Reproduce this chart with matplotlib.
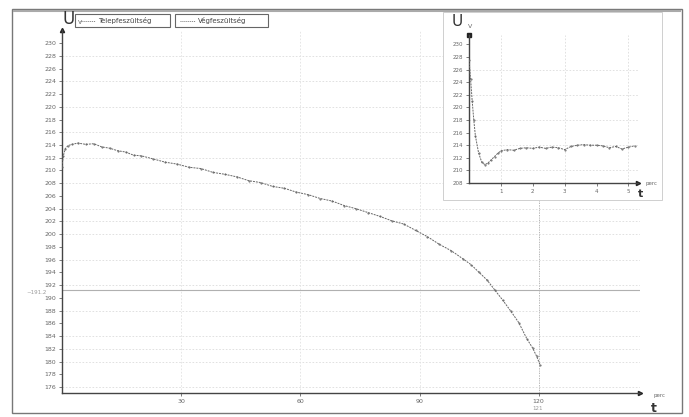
import matplotlib
matplotlib.use("Agg")
import matplotlib.pyplot as plt
from matplotlib.patches import Rectangle

# main curve: battery voltage during discharge (perc, V)
t_main = [0, 0.3, 0.8, 1.5, 2.5, 4, 6, 8, 10, 12, 14, 16, 18, 20, 23, 26, 29,
          32, 35, 38, 41, 44, 47, 50, 53, 56, 59, 62, 65, 68, 71, 74, 77, 80,
          83, 86, 89, 92, 95, 98, 101, 103, 105, 107, 109, 111, 113, 115, 117,
          118.5, 119.5, 120.4]
u_main = [210.6, 212.2, 213.4, 213.9, 214.1, 214.3, 214.1, 214.2, 213.7, 213.5,
          213.1, 212.9, 212.4, 212.3, 211.8, 211.3, 211.0, 210.5, 210.3, 209.7,
          209.4, 209.0, 208.4, 208.1, 207.5, 207.2, 206.6, 206.2, 205.6, 205.2,
          204.5, 204.0, 203.4, 202.8, 202.1, 201.6, 200.6, 199.6, 198.4, 197.4,
          196.1, 195.2, 194.0, 192.8, 191.2, 189.6, 187.9, 186.1, 183.6, 182.1,
          180.8, 179.4]

# inset: first minutes
t_ins = [0, 0.05, 0.1, 0.15, 0.2, 0.3, 0.4, 0.5, 0.6, 0.7, 0.8, 0.9, 1.0, 1.2,
         1.4, 1.6, 1.8, 2.0, 2.2, 2.4, 2.6, 2.8, 3.0, 3.2, 3.4, 3.6, 3.8, 4.0,
         4.2, 4.4, 4.6, 4.8, 5.0, 5.2]
u_ins = [227.5, 224.5, 221.0, 218.0, 215.5, 212.8, 211.3, 210.9, 211.2, 211.7,
         212.2, 212.7, 213.1, 213.3, 213.2, 213.5, 213.6, 213.5, 213.7, 213.5,
         213.7, 213.6, 213.3, 213.8, 214.0, 214.1, 214.0, 214.0, 213.9, 213.6,
         213.8, 213.4, 213.7, 213.9]

main_yticks = list(range(176, 231, 2))
main_xticks = [30, 60, 90, 120]
ins_yticks = list(range(208, 231, 2))
ins_xticks = [1, 2, 3, 4, 5]
legend_labels = ["Telepfeszültség", "Végfeszültség"]
cursor_u = 191.2
cursor_t = 120

W, H = 689, 417
fig = plt.figure(figsize=(W / 100, H / 100), dpi=100)
plt.rcParams["font.family"] = ["DejaVu Sans"]

AX_COL = "#444444"
TXT_COL = "#666666"
GRID_COL = "#dcdcdc"
LINE_COL = "#666666"


def px_box(x0, y0, x1, y1):
    # pixel box (top-left origin) -> figure fraction rect
    return [x0 / W, 1 - y1 / H, (x1 - x0) / W, (y1 - y0) / H]


# outer frame
fig.patches.append(Rectangle((12 / W, 1 - 413 / H), 670 / W, 404 / H,
                             transform=fig.transFigure, fill=False,
                             ec="#777777", lw=1.0))
fig.add_artist(plt.Line2D([14 / W, 680 / W], [1 - 11 / H, 1 - 11 / H],
                          transform=fig.transFigure, color="#aaaaaa", lw=1.5))

ax = fig.add_axes(px_box(62, 30, 640, 393))
ax.set_xlim(0, 145.5)
ax.set_ylim(175.07, 232.05)
for s in ["top", "right"]:
    ax.spines[s].set_visible(False)
for s in ["left", "bottom"]:
    ax.spines[s].set_color(AX_COL)
    ax.spines[s].set_linewidth(1.0)
ax.set_yticks(main_yticks)
ax.set_xticks(main_xticks)
ax.tick_params(axis="both", labelsize=4.5, colors=TXT_COL, length=2, width=0.6, pad=2)
for y in main_yticks:
    if y % 4 == 0 or y in (212, 202, 192, 182):
        ax.axhline(y, color=GRID_COL, lw=0.6, ls=(0, (2, 2)), zorder=0)
for x in main_xticks:
    ax.axvline(x, color="#e2e2e2", lw=0.6, ls=(0, (2, 2)), zorder=0)
ax.axhline(cursor_u, color="#b0b0b0", lw=0.8, zorder=0)
ax.axvline(cursor_t, color="#b0b0b0", lw=0.7, ls=(0, (1, 1.5)), zorder=0)
ax.plot(t_main, u_main, color=LINE_COL, lw=0.7, ls=(0, (2, 1)),
        marker=".", ms=1.0, zorder=3)
ax.plot([0], [232.05], marker="^", ms=3, color="#222222", clip_on=False)
ax.plot([145.5], [175.07], marker=">", ms=3, color="#222222", clip_on=False)

fig.text(62 / W, 1 - 19 / H, "U", fontsize=12, color="#333333", ha="left", va="center")
fig.text(78 / W, 1 - 23 / H, "V", fontsize=4.5, color=TXT_COL, ha="left", va="center")
fig.text(653 / W, 1 - 395 / H, "perc", fontsize=4, color=TXT_COL, ha="left", va="center")
fig.text(654 / W, 1 - 408 / H, "t", fontsize=9, color="#333333", ha="center", va="center",
         fontweight="bold")
fig.text(26 / W, 1 - 293 / H, "~%.1f" % cursor_u, fontsize=4, color="#999999",
         ha="left", va="center")
fig.text(538 / W, 1 - 408 / H, "121", fontsize=4, color="#999999", ha="center", va="center")

# legend boxes
for (x0, x1), lab in zip([(75, 170), (175, 268)], legend_labels):
    fig.patches.append(Rectangle((x0 / W, 1 - 27 / H), (x1 - x0) / W, 13 / H,
                                 transform=fig.transFigure, fill=False,
                                 ec="#666666", lw=0.8))
    fig.add_artist(plt.Line2D([(x0 + 5) / W, (x0 + 20) / W], [1 - 20.5 / H] * 2,
                              transform=fig.transFigure, color="#777777", lw=0.7,
                              ls=(0, (1, 1))))
    fig.text((x0 + 23) / W, 1 - 20.5 / H, lab, fontsize=5, color="#444444",
             ha="left", va="center")

# inset
fig.patches.append(Rectangle((443 / W, 1 - 200 / H), 219 / W, 188 / H,
                             transform=fig.transFigure, facecolor="white",
                             ec="#c8c8c8", lw=0.6, zorder=2))
axi = fig.add_axes(px_box(469, 35, 638, 183), zorder=3)
axi.set_facecolor("none")
axi.set_xlim(0, 5.3)
axi.set_ylim(208, 231.5)
for s in ["top", "right"]:
    axi.spines[s].set_visible(False)
for s in ["left", "bottom"]:
    axi.spines[s].set_color(AX_COL)
    axi.spines[s].set_linewidth(1.0)
axi.set_yticks(ins_yticks)
axi.set_xticks(ins_xticks)
axi.tick_params(axis="both", labelsize=4, colors=TXT_COL, length=2, width=0.6, pad=2)
for y in [226, 222, 218, 214, 210]:
    axi.axhline(y, color=GRID_COL, lw=0.6, ls=(0, (2, 2)), zorder=0)
for x in [1, 3, 5]:
    axi.axvline(x, color=GRID_COL, lw=0.6, ls=(0, (2, 2)), zorder=0)
axi.plot(t_ins, u_ins, color=LINE_COL, lw=0.7, ls=(0, (2, 1)),
         marker=".", ms=1.0, zorder=3)
axi.plot([0], [231.5], marker="s", ms=2.5, color="#222222", clip_on=False)
axi.plot([5.3], [208], marker=">", ms=3, color="#222222", clip_on=False)

fig.text(452 / W, 1 - 21 / H, "U", fontsize=11, color="#333333", ha="left", va="center",
         zorder=4)
fig.text(468 / W, 1 - 27 / H, "V", fontsize=4.5, color=TXT_COL, ha="left", va="center",
         zorder=4)
fig.text(646 / W, 1 - 184 / H, "perc", fontsize=4, color=TXT_COL, ha="left", va="center",
         zorder=4)
fig.text(641 / W, 1 - 194 / H, "t", fontsize=8, color="#333333", ha="center", va="center",
         fontweight="bold", zorder=4)

fig.savefig("out.png", dpi=100)
